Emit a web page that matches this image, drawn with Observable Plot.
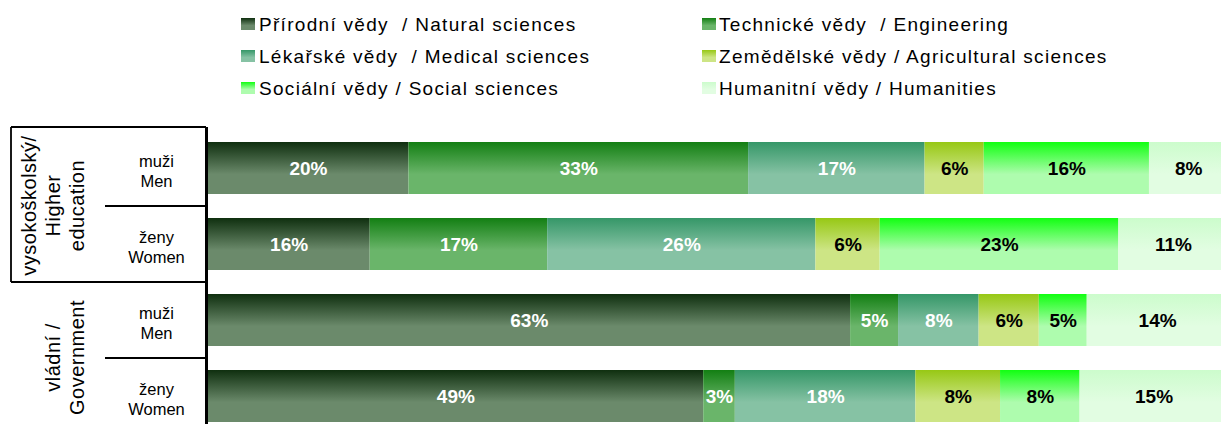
<!DOCTYPE html>
<html>
<head>
<meta charset="utf-8">
<script src="https://cdn.jsdelivr.net/npm/d3@7"></script>
<script src="https://cdn.jsdelivr.net/npm/@observablehq/plot@0.6"></script>
<style>
  html, body { margin: 0; padding: 0; background: #fff; overflow: hidden; }
  body { width: 1221px; height: 424px; font-family: "Liberation Sans", Arial, sans-serif; }
  #legend { position: relative; width: 1221px; height: 120px; }
  .item { position: absolute; height: 20px; white-space: pre; font-size: 19px; line-height: 20px; letter-spacing: 1.3px; color: #000; }
  .sw { position: absolute; width: 14px; height: 12px; }
  #chart svg { display: block; overflow: visible; }
</style>
</head>
<body>
<svg width="0" height="0" style="position:absolute">
  <defs id="grads"></defs>
</svg>
<div id="legend"></div>
<div id="chart"></div>
<script>
// ---- data ----
const fields = [
  "Přírodní vědy  / Natural sciences",
  "Technické vědy  / Engineering",
  "Lékařské vědy  / Medical sciences",
  "Zemědělské vědy / Agricultural sciences",
  "Sociální vědy / Social sciences",
  "Humanitní vědy / Humanities"
];
const rowKeys = ["he-men", "he-women", "gov-men", "gov-women"];
const rowLabels = ["muži\nMen", "ženy\nWomen", "muži\nMen", "ženy\nWomen"];
const groupLabels = ["vysokoškolský/\nHigher\neducation", "vládní /\nGovernment"];
const groupFirstRow = ["he-men", "gov-men"];

// shares in %, rows: HE men, HE women, Gov men, Gov women
const natural      = [19.7, 15.9, 63.0, 48.6];
const engineering  = [33.3, 17.4,  4.7,  3.1];
const medical      = [17.3, 26.3,  7.9, 17.7];
const agricultural = [ 5.8,  6.3,  5.9,  8.3];
const social       = [16.2, 23.4,  4.7,  7.8];
const humanities   = [ 7.7, 10.7, 13.8, 14.5];

const gradTop    = ["#0f2f0f", "#137f13", "#359768", "#97c815", "#12ff12", "#ccfccc"];
const gradBottom = ["#6b8a6b", "#6ab56a", "#86c2a4", "#cde585", "#aefcae", "#e2fde2"];
const labelInk   = ["white", "white", "white", "black", "black", "black"];

const series = [natural, engineering, medical, agricultural, social, humanities];

// ---- gradients ----
const defs = document.getElementById("grads");
const NS = "http://www.w3.org/2000/svg";
fields.forEach((f, i) => {
  const g = document.createElementNS(NS, "linearGradient");
  g.setAttribute("id", "grad" + i);
  g.setAttribute("x1", "0"); g.setAttribute("y1", "0");
  g.setAttribute("x2", "0"); g.setAttribute("y2", "1");
  [[0, gradTop[i]], [0.62, gradBottom[i]], [1, gradBottom[i]]].forEach(([o, c]) => {
    const s = document.createElementNS(NS, "stop");
    s.setAttribute("offset", o);
    s.setAttribute("stop-color", c);
    g.appendChild(s);
  });
  defs.appendChild(g);
});

// ---- legend ----
const legend = document.getElementById("legend");
const colSw = [241, 702], colTx = [259, 719], rowTop = [18, 50, 82];
fields.forEach((f, i) => {
  const c = i % 2, r = Math.floor(i / 2);
  const sw = document.createElement("div");
  sw.className = "sw";
  sw.style.left = colSw[c] + "px";
  sw.style.top = rowTop[r] + "px";
  sw.style.background = `linear-gradient(to bottom, ${gradTop[i]} 0%, ${gradBottom[i]} 62%, ${gradBottom[i]} 100%)`;
  legend.appendChild(sw);
  const t = document.createElement("div");
  t.className = "item";
  t.style.left = colTx[c] + "px";
  t.style.top = (rowTop[r] - 3) + "px";
  t.textContent = f;
  legend.appendChild(t);
});

// ---- table ----
const data = [];
rowKeys.forEach((row, r) => {
  series.forEach((s, k) => {
    data.push({row, k, field: fields[k], value: s[r]});
  });
});

const W = 1221, H = 304, ML = 207.5;
const plot = Plot.plot({
  width: W,
  height: H,
  marginLeft: ML,
  marginRight: 0,
  marginTop: 7,
  marginBottom: 0,
  style: {fontFamily: "'Liberation Sans', Arial, sans-serif", background: "transparent", overflow: "visible"},
  x: {domain: [0, 100], range: [ML, ML + 1020], axis: null},
  y: {domain: rowKeys, range: [10, 314], paddingInner: 24 / 76, paddingOuter: 12 / 76, axis: null},
  color: {type: "identity"},
  marks: [
    Plot.barX(data, Plot.stackX({x: "value", y: "row", fill: d => `url(#grad${d.k})`})),
    Plot.text(data, Plot.stackX({
      x: "value", y: "row",
      text: d => Math.round(d.value) + "%",
      fill: d => labelInk[d.k],
      fontWeight: "bold", fontSize: 19
    })),
    Plot.text(rowKeys, {
      y: d => d, text: (d, i) => rowLabels[i],
      frameAnchor: "left", dx: 156 - ML, dy: 2,
      textAnchor: "middle", lineAnchor: "middle", lineHeight: 1.2,
      fontSize: 16.5, fill: "black"
    }),
    Plot.text(groupFirstRow, {
      y: d => d, text: (d, i) => groupLabels[i],
      frameAnchor: "left", dx: 83 - ML, dy: 37, rotate: -90,
      textAnchor: "middle", lineAnchor: "bottom", lineHeight: 1.2,
      fontSize: 20, fill: "black"
    }),
    Plot.ruleX([0], {dx: -1.5, stroke: "black", strokeWidth: 3})
  ]
});

document.getElementById("chart").appendChild(plot);

// widen the rotated group labels a little, as in the reference
const textGroups = d3.select(plot).selectAll("g[aria-label='text']").nodes();
if (textGroups[2]) textGroups[2].style.letterSpacing = "0.5px";

// table border lines, placed from the plot's own y scale
const ys = plot.scale("y");
const gap = ys.step - ys.bandwidth;
const edge = key => ys.apply(key) - gap / 2;
const svg = d3.select(plot);
const lines = [
  {x1: 11, x2: 206, y1: 7, y2: 7},
  {x1: 11, x2: 11, y1: 7, y2: edge("gov-men")},
  {x1: 11, x2: 206, y1: edge("gov-men"), y2: edge("gov-men")},
  {x1: 105, x2: 206, y1: edge("he-women"), y2: edge("he-women")},
  {x1: 105, x2: 206, y1: edge("gov-women"), y2: edge("gov-women")}
];
svg.append("g").selectAll("line").data(lines).join("line")
  .attr("x1", d => d.x1).attr("x2", d => d.x2)
  .attr("y1", d => d.y1).attr("y2", d => d.y2)
  .attr("stroke", "black").attr("stroke-width", 1.8);
</script>
</body>
</html>
